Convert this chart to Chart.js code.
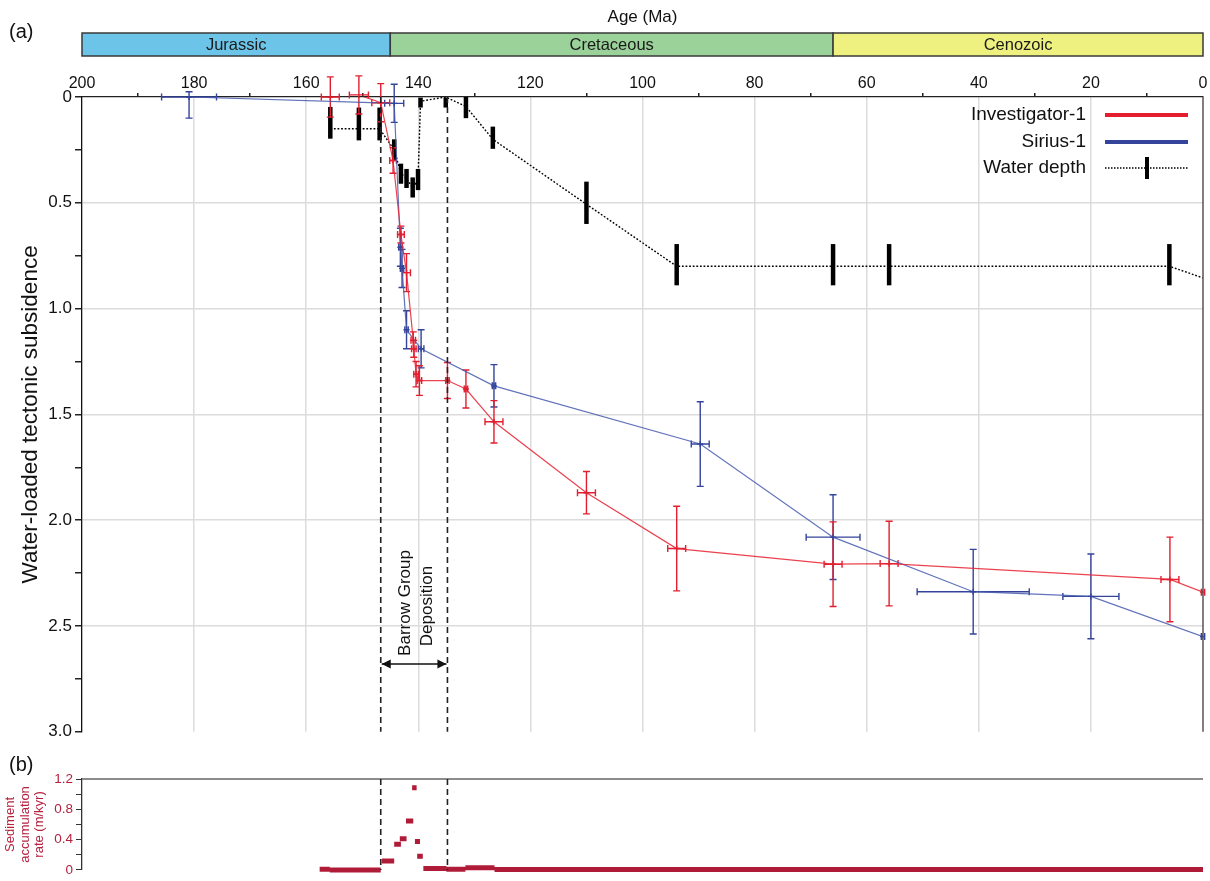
<!DOCTYPE html>
<html><head><meta charset="utf-8">
<script src="https://cdn.jsdelivr.net/npm/chart.js@4.4.1/dist/chart.umd.min.js"></script>
<style>
html,body{margin:0;padding:0;background:#fff;width:1210px;height:881px;overflow:hidden;}
#a{position:absolute;left:0;top:0;}
#b{position:absolute;left:0;top:745px;}
</style></head><body>
<canvas id="a" width="1210" height="745"></canvas>
<canvas id="b" width="1210" height="136"></canvas>
<script>
const FONT = '"Liberation Sans", Arial, Helvetica, sans-serif';

// ---- Geological periods (Ma) ----
const periodNames = ['Jurassic', 'Cretaceous', 'Cenozoic'];
const periodStart = [200, 145, 66];
const periodEnd = [145, 66, 0];
const periodColors = ['#6cc4e8', '#9ad29a', '#eef07f'];

// ---- Investigator-1 ----
const invAge = [155.7, 150.6, 146.7, 144.5, 143.1, 142.1, 140.9, 140.8, 140.4, 139.8, 134.8, 131.5, 126.5, 110.0, 93.9, 66.0, 56.0, 5.9, 0];
const invDepth = [0.0, -0.01, 0.027, 0.30, 0.65, 0.83, 1.15, 1.19, 1.31, 1.34, 1.34, 1.38, 1.535, 1.87, 2.134, 2.208, 2.205, 2.28, 2.34];
const invDepthErr = [0.095, 0.09, 0.09, 0.06, 0.04, 0.09, 0.04, 0.04, 0.06, 0.07, 0.085, 0.09, 0.1, 0.1, 0.2, 0.2, 0.2, 0.2, 0];
const invAgeErr = [1.6, 1.7, 1.6, 0.6, 0.6, 0.7, 0.4, 0.4, 0.4, 0.4, 0.3, 0.3, 1.6, 1.6, 1.6, 1.6, 1.6, 1.6, 0.3];

// ---- Sirius-1 ----
const sirAge = [180.9, 144.3, 143.2, 142.9, 142.1, 139.5, 126.5, 89.7, 66.0, 41.0, 20.0, 0];
const sirDepth = [0.0, 0.03, 0.71, 0.81, 1.10, 1.19, 1.365, 1.64, 2.08, 2.338, 2.36, 2.55];
const sirDepthErrUp = [0.025, 0.09, 0.09, 0.09, 0.09, 0.09, 0.1, 0.2, 0.2, 0.2, 0.2, 0];
const sirDepthErrDown = [0.1, 0.09, 0.09, 0.09, 0.09, 0.09, 0.1, 0.2, 0.2, 0.2, 0.2, 0];
const sirAgeErr = [4.9, 1.7, 0.3, 0.3, 0.3, 0.5, 0.3, 1.6, 4.8, 10, 5, 0.3];

// ---- Water depth ----
const wdAge = [155.7, 150.6, 146.9, 144.3, 143.1, 142.1, 141.0, 140.05, 139.6, 135.1, 131.5, 126.7, 110.0, 93.9, 66.0, 56.0, 6.0, 0];
const wdDepth = [0.15, 0.15, 0.15, 0.25, 0.36, 0.385, 0.43, 0.39, 0.02, 0.0, 0.045, 0.2, 0.507, 0.80, 0.80, 0.80, 0.80, 0.855];
const wdMin = [0.047, 0.05, 0.05, 0.20, 0.315, 0.34, 0.38, 0.34, 0.003, 0.003, 0.0, 0.14, 0.40, 0.695, 0.695, 0.695, 0.695, null];
const wdMax = [0.197, 0.205, 0.205, 0.30, 0.41, 0.43, 0.475, 0.44, 0.05, 0.05, 0.10, 0.245, 0.60, 0.89, 0.89, 0.89, 0.89, null];

// ---- Barrow Group deposition interval ----
const barrowStart = 146.7;
const barrowEnd = 134.8;

// ---- Sediment accumulation rate (m/kyr) ----
const rateFrom = [157.6, 155.8, 146.5, 144.3, 143.3, 142.2, 141.1, 140.6, 140.2, 139.1, 135.0, 131.6, 126.4];
const rateTo = [155.8, 146.7, 144.3, 143.1, 142.1, 140.9, 140.3, 139.7, 139.2, 135.0, 131.6, 126.4, 0];
const rateValue = [0.01, 0.0, 0.117, 0.338, 0.41, 0.644, 1.085, 0.375, 0.18, 0.02, 0.008, 0.03, 0.005];

const RED = '#e31e2f', BLUE = '#34449a';

function pts(xs, ys) { return xs.map((x, i) => ({x: x, y: ys[i]})); }

const errorPlugin = {
  id: 'errs',
  beforeDatasetsDraw(chart) {
    const ctx = chart.ctx, xs = chart.scales.x, ys = chart.scales.y;
    ctx.save();
    // water-depth bars
    ctx.strokeStyle = '#000'; ctx.lineWidth = 4.5; ctx.lineCap = 'butt';
    wdAge.forEach((a, i) => {
      if (wdMin[i] === null) return;
      const px = xs.getPixelForValue(a);
      ctx.beginPath();
      ctx.moveTo(px, ys.getPixelForValue(wdMin[i]));
      ctx.lineTo(px, ys.getPixelForValue(wdMax[i]));
      ctx.stroke();
    });
    function eb(color, ages, depths, up, down, aerr) {
      ctx.strokeStyle = color; ctx.lineWidth = 1.4;
      const c = 3.5;
      ages.forEach((a, i) => {
        const px = xs.getPixelForValue(a), py = ys.getPixelForValue(depths[i]);
        if (up[i] > 0 || down[i] > 0) {
          const y1 = ys.getPixelForValue(depths[i] - up[i]), y2 = ys.getPixelForValue(depths[i] + down[i]);
          ctx.beginPath();
          ctx.moveTo(px, y1); ctx.lineTo(px, y2);
          ctx.moveTo(px - c, y1); ctx.lineTo(px + c, y1);
          ctx.moveTo(px - c, y2); ctx.lineTo(px + c, y2);
          ctx.stroke();
        }
        if (aerr[i] > 0) {
          const x1 = xs.getPixelForValue(a - aerr[i]), x2 = xs.getPixelForValue(a + aerr[i]);
          ctx.beginPath();
          ctx.moveTo(x1, py); ctx.lineTo(x2, py);
          ctx.moveTo(x1, py - c); ctx.lineTo(x1, py + c);
          ctx.moveTo(x2, py - c); ctx.lineTo(x2, py + c);
          ctx.stroke();
        }
      });
    }
    eb(BLUE, sirAge, sirDepth, sirDepthErrUp, sirDepthErrDown, sirAgeErr);
    eb(RED, invAge, invDepth, invDepthErr, invDepthErr, invAgeErr);
    ctx.restore();
  },
  afterDraw(chart) {
    const ctx = chart.ctx, xs = chart.scales.x, ys = chart.scales.y, ca = chart.chartArea;
    ctx.save();
    // right border
    ctx.strokeStyle = '#555'; ctx.lineWidth = 1.5;
    ctx.beginPath(); ctx.moveTo(ca.right, ca.top); ctx.lineTo(ca.right, ca.bottom); ctx.stroke();
    // time bar
    const ty = 33, th = 23;
    periodNames.forEach((n, i) => {
      const x1 = xs.getPixelForValue(periodStart[i]), x2 = xs.getPixelForValue(periodEnd[i]);
      ctx.fillStyle = periodColors[i];
      ctx.fillRect(x1, ty, x2 - x1, th);
      ctx.strokeStyle = '#3a3a3a'; ctx.lineWidth = 1.5;
      ctx.strokeRect(x1, ty, x2 - x1, th);
      ctx.fillStyle = '#1a1a1a'; ctx.font = '16.5px ' + FONT;
      ctx.textAlign = 'center'; ctx.textBaseline = 'middle';
      ctx.fillText(n, (x1 + x2) / 2, ty + th / 2 + 1);
    });
    ctx.fillStyle = '#111';
    ctx.font = '17px ' + FONT; ctx.textAlign = 'center'; ctx.textBaseline = 'middle';
    ctx.fillText('Age (Ma)', (ca.left + ca.right) / 2, 17);
    ctx.font = '20px ' + FONT; ctx.textAlign = 'left';
    ctx.fillText('(a)', 9, 32);
    // dashed lines
    const bx1 = xs.getPixelForValue(barrowStart), bx2 = xs.getPixelForValue(barrowEnd);
    ctx.strokeStyle = '#222'; ctx.lineWidth = 1.6; ctx.setLineDash([6, 4]);
    [bx1, bx2].forEach(x => { ctx.beginPath(); ctx.moveTo(x, ca.top); ctx.lineTo(x, ca.bottom); ctx.stroke(); });
    ctx.setLineDash([]);
    // arrow
    const ay = ys.getPixelForValue(2.68);
    ctx.strokeStyle = '#111'; ctx.lineWidth = 1.5;
    ctx.beginPath(); ctx.moveTo(bx1 + 1, ay); ctx.lineTo(bx2 - 1, ay); ctx.stroke();
    ctx.fillStyle = '#111';
    ctx.beginPath(); ctx.moveTo(bx1 + 1, ay); ctx.lineTo(bx1 + 10, ay - 4.5); ctx.lineTo(bx1 + 10, ay + 4.5); ctx.closePath(); ctx.fill();
    ctx.beginPath(); ctx.moveTo(bx2 - 1, ay); ctx.lineTo(bx2 - 10, ay - 4.5); ctx.lineTo(bx2 - 10, ay + 4.5); ctx.closePath(); ctx.fill();
    // Barrow text
    ctx.font = '17px ' + FONT; ctx.textAlign = 'center'; ctx.textBaseline = 'middle';
    ctx.save(); ctx.translate(bx1 + 25, 603); ctx.rotate(-Math.PI / 2); ctx.fillText('Barrow Group', 0, 0); ctx.restore();
    ctx.save(); ctx.translate(bx1 + 47, 606); ctx.rotate(-Math.PI / 2); ctx.fillText('Deposition', 0, 0); ctx.restore();
    // legend
    const items = [
      {t: chart.data.datasets[0].label, y: 115, c: RED, type: 'line'},
      {t: chart.data.datasets[1].label, y: 142, c: BLUE, type: 'line'},
      {t: chart.data.datasets[2].label, y: 168, c: '#000', type: 'wd'}
    ];
    ctx.font = '19px ' + FONT; ctx.textAlign = 'right'; ctx.textBaseline = 'middle';
    items.forEach(it => {
      ctx.fillStyle = '#111';
      ctx.fillText(it.t, 1086, it.y);
      if (it.type === 'line') {
        ctx.strokeStyle = it.c; ctx.lineWidth = 4;
        ctx.beginPath(); ctx.moveTo(1105, it.y); ctx.lineTo(1188, it.y); ctx.stroke();
      } else {
        ctx.strokeStyle = '#000'; ctx.lineWidth = 1.3; ctx.setLineDash([1.5, 1.5]);
        ctx.beginPath(); ctx.moveTo(1105, it.y); ctx.lineTo(1188, it.y); ctx.stroke();
        ctx.setLineDash([]); ctx.lineWidth = 4;
        ctx.beginPath(); ctx.moveTo(1147, it.y - 11); ctx.lineTo(1147, it.y + 11); ctx.stroke();
      }
    });
    ctx.restore();
  }
};

new Chart(document.getElementById('a'), {
  type: 'line',
  data: {
    datasets: [
      {label: 'Investigator-1', data: pts(invAge, invDepth), borderColor: 'rgba(232,40,55,0.88)', borderWidth: 1.2,
       pointStyle: 'cross', pointRadius: 3, pointBorderWidth: 1.4, pointBorderColor: RED, tension: 0},
      {label: 'Sirius-1', data: pts(sirAge, sirDepth), borderColor: 'rgba(70,90,175,0.85)', borderWidth: 1.2,
       pointStyle: 'cross', pointRadius: 3, pointBorderWidth: 1.4, pointBorderColor: BLUE, tension: 0},
      {label: 'Water depth', data: pts(wdAge, wdDepth), borderColor: '#000', borderWidth: 1.4, borderDash: [1.8, 1.8],
       pointRadius: 0, tension: 0}
    ]
  },
  options: {
    responsive: false, animation: false, devicePixelRatio: 1,
    layout: {padding: {top: 60, left: 0, right: 7, bottom: 9}},
    plugins: {legend: {display: false}, tooltip: {enabled: false}},
    scales: {
      x: {
        type: 'linear', position: 'top', reverse: true, min: 0, max: 200,
        afterFit: s => { s.height = 37; },
        border: {display: true, color: '#222', width: 1.3},
        grid: {
          color: c => (c.tick && c.tick.value % 20 === 0 && c.tick.value !== 0 && c.tick.value !== 200) ? '#dcdcdc' : 'rgba(0,0,0,0)',
          lineWidth: 1.5,
          tickColor: c => (c.tick && c.tick.value % 20 !== 0) ? '#222' : 'rgba(0,0,0,0)',
          tickLength: 4, drawTicks: true
        },
        ticks: {stepSize: 10, autoSkip: false, maxRotation: 0, padding: 0, color: '#111',
          font: {family: FONT, size: 16},
          callback: v => (v % 20 === 0 ? String(v) : '')}
      },
      y: {
        type: 'linear', reverse: true, min: 0, max: 3,
        afterFit: s => { s.width = 82; },
        border: {display: true, color: '#111', width: 1.3},
        grid: {
          color: c => (c.tick && c.tick.value % 0.5 === 0 && c.tick.value !== 0 && c.tick.value !== 3) ? '#dcdcdc' : 'rgba(0,0,0,0)',
          lineWidth: 1.5, tickColor: '#222', tickLength: 7
        },
        ticks: {stepSize: 0.25, autoSkip: false, padding: 3, color: '#111',
          font: {family: FONT, size: 17},
          callback: v => (v === 0 ? '0' : (v % 0.5 === 0 ? v.toFixed(1) : ''))},
        title: {display: true, text: 'Water-loaded tectonic subsidence', color: '#111',
          font: {family: FONT, size: 22.5, lineHeight: 1.2}, padding: {top: 17, bottom: 0}}
      }
    }
  },
  plugins: [errorPlugin]
});

// ---- panel (b) ----
const rateData = [];
rateFrom.forEach((f, i) => {
  rateData.push({x: f, y: rateValue[i]});
  rateData.push({x: rateTo[i], y: rateValue[i]});
  rateData.push({x: rateTo[i], y: null});
});

const bPlugin = {
  id: 'bdeco',
  afterDraw(chart) {
    const ctx = chart.ctx, xs = chart.scales.x, ca = chart.chartArea;
    ctx.save();
    ctx.strokeStyle = '#666'; ctx.lineWidth = 1.5;
    ctx.beginPath(); ctx.moveTo(ca.left, ca.top); ctx.lineTo(ca.right, ca.top); ctx.stroke();
    ctx.strokeStyle = '#222'; ctx.lineWidth = 1.6; ctx.setLineDash([6, 4]);
    [barrowStart, barrowEnd].forEach(a => {
      const x = xs.getPixelForValue(a);
      ctx.beginPath(); ctx.moveTo(x, ca.top); ctx.lineTo(x, ca.bottom); ctx.stroke();
    });
    ctx.setLineDash([]);
    ctx.fillStyle = '#111'; ctx.font = '20px ' + FONT; ctx.textAlign = 'left'; ctx.textBaseline = 'middle';
    ctx.fillText('(b)', 9, 20);
    ctx.restore();
  }
};

new Chart(document.getElementById('b'), {
  type: 'line',
  data: {datasets: [{label: 'Sediment accumulation rate', data: rateData, borderColor: '#b01c38', borderWidth: 5,
    borderCapStyle: 'butt', pointRadius: 0, spanGaps: false, tension: 0, clip: false}]},
  options: {
    responsive: false, animation: false, devicePixelRatio: 1,
    layout: {padding: {top: 34, left: 0, right: 7, bottom: 4}},
    plugins: {legend: {display: false}, tooltip: {enabled: false}},
    scales: {
      x: {type: 'linear', display: false, reverse: true, min: 0, max: 200},
      y: {
        type: 'linear', min: 0, max: 1.2,
        afterFit: s => { s.width = 82; },
        border: {display: true, color: '#333', width: 1.3},
        grid: {drawOnChartArea: false, tickColor: '#333', tickLength: 6},
        ticks: {stepSize: 0.2, autoSkip: false, padding: 3, color: '#b5213f',
          font: {family: FONT, size: 13.5},
          callback: v => { const k = Math.round(v * 10); return k % 4 === 0 ? (k === 0 ? '0' : (k / 10).toFixed(1)) : ''; }},
        title: {display: true, text: ['Sediment', 'accumulation', 'rate (m/kyr)'], color: '#b5213f',
          font: {family: FONT, size: 13, lineHeight: 1.15}, padding: {top: 2.5, bottom: 0}}
      }
    }
  },
  plugins: [bPlugin]
});
</script>
</body></html>
